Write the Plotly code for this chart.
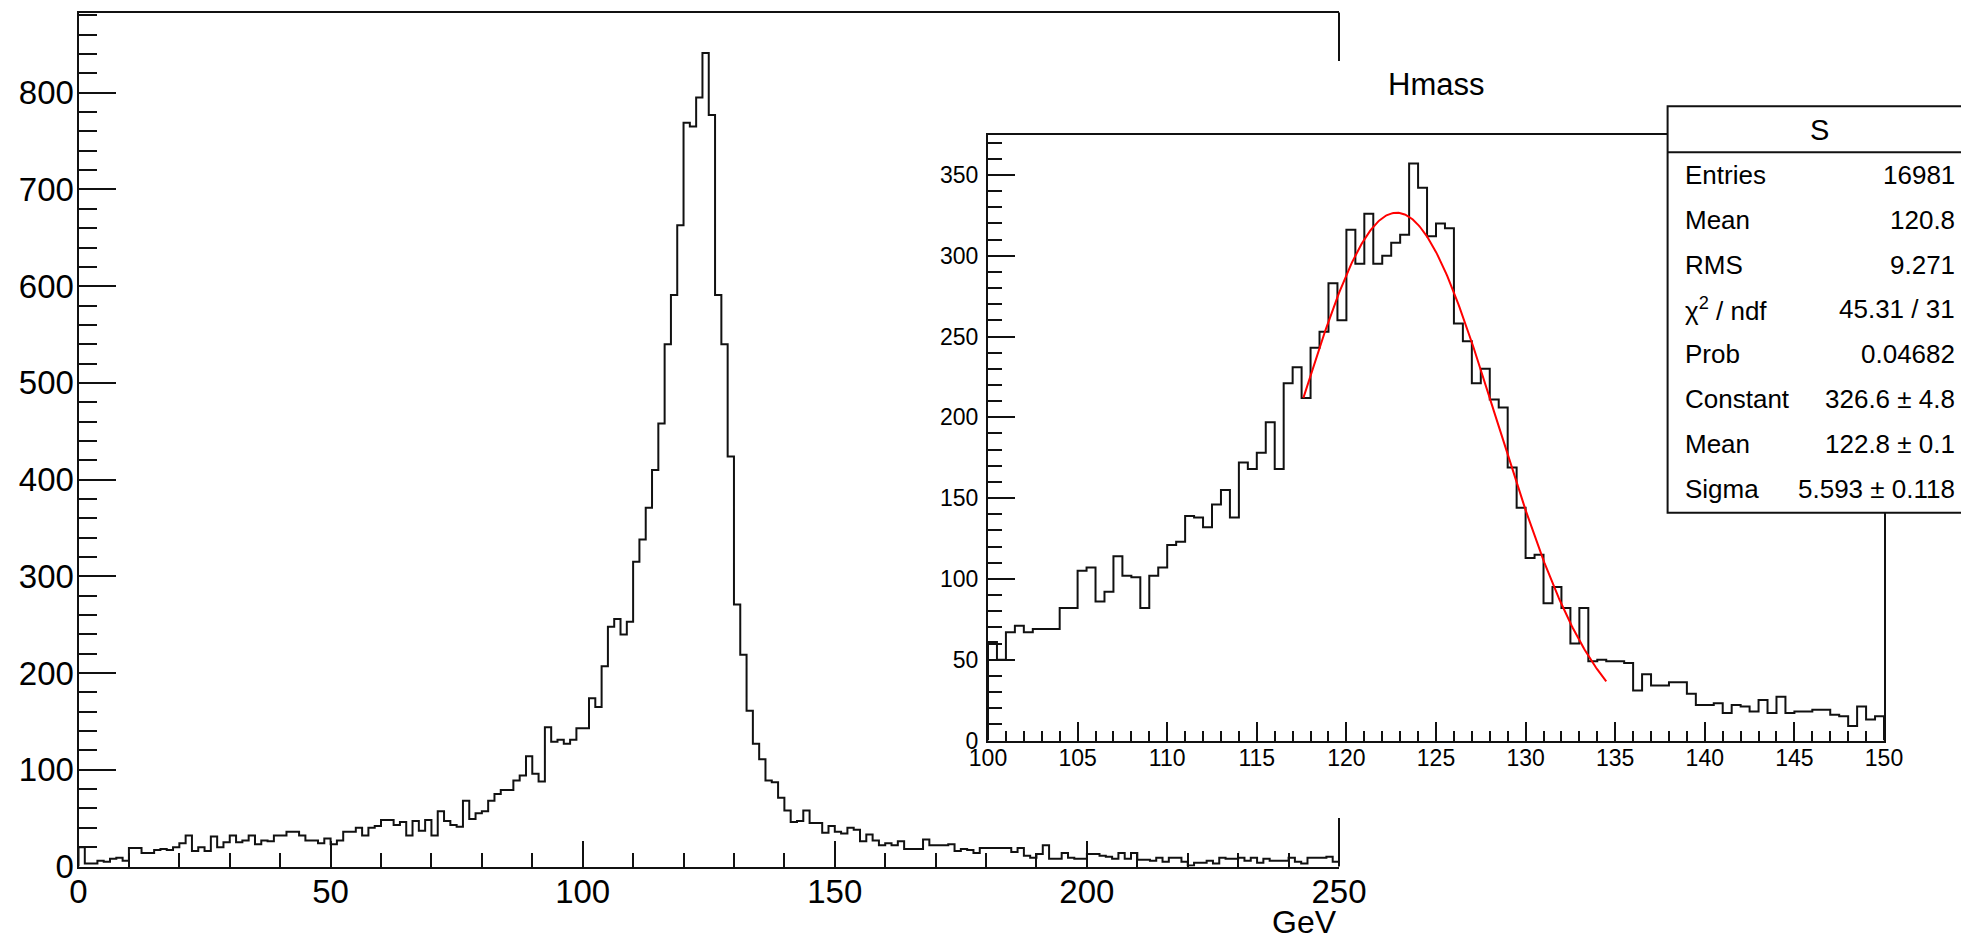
import numpy as np
import plotly.graph_objects as go

W, H = 1961, 943

# ---------------- data ----------------
# main histogram: 200 bins, 0..250 GeV
main_range = (0.0, 250.0)
main_counts = [
    20, 3, 3, 6, 5, 8, 9, 6, 19, 19,
    14, 14, 17, 18, 17, 20, 24, 32, 16, 20,
    16, 31, 20, 25, 32, 25, 27, 32, 23, 27,
    26, 32, 32, 36, 36, 32, 27, 27, 24, 29,
    23, 27, 36, 36, 40, 32, 40, 42, 48, 48,
    43, 46, 32, 47, 37, 48, 32, 57, 47, 43,
    41, 68, 49, 55, 57, 68, 75, 79, 79, 89,
    94, 114, 96, 88, 144, 129, 131, 127, 131, 143,
    143, 174, 165, 207, 248, 256, 240, 253, 315, 338,
    371, 410, 458, 540, 591, 663, 769, 765, 795, 841,
    777, 591, 540, 424, 271, 219, 161, 127, 111, 89,
    87, 71, 58, 46, 47, 58, 45, 45, 35, 42,
    36, 34, 40, 38, 26, 33, 27, 22, 24, 22,
    26, 18, 18, 18, 28, 22, 22, 22, 23, 16,
    18, 17, 14, 19, 19, 19, 19, 19, 15, 19,
    11, 9, 13, 22, 8, 8, 14, 9, 8, 8,
    13, 13, 11, 10, 8, 14, 8, 14, 7, 7,
    6, 9, 5, 9, 9, 5, 1, 4, 4, 6,
    3, 9, 8, 8, 9, 6, 9, 4, 8, 6,
    6, 6, 9, 5, 3, 9, 9, 9, 10, 5,
]

# inset histogram "Hmass": 100 bins, 100..150 GeV
inset_range = (100.0, 150.0)
inset_counts = [
    61, 50, 67, 71, 67, 69, 69, 69, 82, 82,
    105, 107, 86, 92, 114, 102, 101, 82, 102, 107,
    121, 123, 139, 138, 132, 146, 155, 138, 172, 168,
    178, 197, 168, 221, 231, 212, 243, 253, 283, 260,
    316, 295, 326, 295, 300, 308, 313, 357, 342, 312,
    320, 317, 258, 247, 221, 230, 211, 206, 169, 144,
    113, 115, 85, 95, 82, 60, 82, 49, 50, 49,
    49, 48, 31, 41, 34, 34, 36, 36, 29, 22,
    22, 23, 17, 22, 21, 18, 25, 17, 27, 17,
    18, 18, 19, 19, 16, 15, 9, 21, 13, 15,
]

# gaussian fit (parameters from the stats box)
fit_constant = 326.6
fit_mean = 122.8
fit_sigma = 5.593
fit_range = (117.6, 134.5)

stats_title = "S"
stats_labels = ["Entries", "Mean", "RMS", "χ<sup>2</sup> / ndf", "Prob",
                "Constant", "Mean", "Sigma"]
stats_values = ["16981", "120.8", "9.271", "45.31 / 31", "0.04682",
                "326.6 ± 4.8", "122.8 ± 0.1", "5.593 ± 0.118"]

main_yticks = [0, 100, 200, 300, 400, 500, 600, 700, 800]
main_xticks = [0, 50, 100, 150, 200, 250]
inset_xticks = [100, 105, 110, 115, 120, 125, 130, 135, 140, 145, 150]
inset_yticks = [0, 50, 100, 150, 200, 250, 300, 350]
x_title = "GeV"
inset_title = "Hmass"


# ---------------- helpers ----------------
def px(x):
    return x / W


def py(y):
    return 1 - y / H


def step_xy(counts, lo, hi):
    n = len(counts)
    edges = np.linspace(lo, hi, n + 1)
    xs = [edges[0]] + list(edges[:-1]) + [edges[-1], edges[-1]]
    ys = [0] + list(counts) + [counts[-1], 0]
    return xs, ys


FONT = "Liberation Sans, Arial, Helvetica, sans-serif"
LW = 2
INK = "#111111"

fig = go.Figure()

mx, my = step_xy(main_counts, *main_range)
fig.add_trace(go.Scatter(x=mx, y=my, mode="lines", line=dict(color=INK, width=LW, shape="hv"),
                         xaxis="x", yaxis="y", showlegend=False, hoverinfo="skip"))

ix, iy = step_xy(inset_counts, *inset_range)
fig.add_trace(go.Scatter(x=ix, y=iy, mode="lines", line=dict(color=INK, width=LW, shape="hv"),
                         xaxis="x2", yaxis="y2", showlegend=False, hoverinfo="skip"))

fx = np.linspace(fit_range[0], fit_range[1], 300)
fy = fit_constant * np.exp(-0.5 * ((fx - fit_mean) / fit_sigma) ** 2)
fig.add_trace(go.Scatter(x=fx, y=fy, mode="lines", line=dict(color="#ff0000", width=2),
                         xaxis="x2", yaxis="y2", showlegend=False, hoverinfo="skip"))

# geometry (pixels)
M_L, M_R, M_T, M_B = 78.5, 1339.0, 12.5, 866.5
I_L, I_R, I_T, I_B = 988.0, 1884.0, 134.5, 740.5
PAD_T, PAD_B = 61.0, 818.0
S_L, S_R, S_T, S_SEP, S_B = 1667.6, 1975.0, 106.3, 152.3, 512.7


def axis(**kw):
    d = dict(showgrid=False, zeroline=False, showline=True, linecolor=INK,
             linewidth=LW, ticks="inside", tickcolor=INK, tickwidth=LW,
             automargin=False)
    d.update(kw)
    return d


fig.update_layout(
    width=W, height=H,
    margin=dict(l=0, r=0, t=0, b=0, pad=0),
    paper_bgcolor="white", plot_bgcolor="rgba(0,0,0,0)",
    showlegend=False,
    xaxis=axis(domain=[px(M_L), px(M_R)], range=list(main_range),
               tickvals=main_xticks, ticklen=26, mirror=True, anchor="y",
               ticklabelstandoff=-5, tickfont=dict(family=FONT, size=33, color="black"),
               minor=dict(ticks="inside", dtick=10, ticklen=14, tickwidth=LW, tickcolor=INK)),
    yaxis=axis(domain=[py(M_B), py(M_T)], range=[0, 883],
               tickvals=main_yticks, ticklen=37, mirror=False, anchor="x",
               ticklabelstandoff=-4, tickfont=dict(family=FONT, size=33, color="black"),
               minor=dict(ticks="inside", dtick=20, ticklen=18.5, tickwidth=LW, tickcolor=INK)),
    xaxis2=axis(domain=[px(I_L), px(I_R)], range=list(inset_range),
                tickvals=inset_xticks, ticklen=18.7, mirror=True, anchor="y2",
                ticklabelstandoff=-4, tickfont=dict(family=FONT, size=23, color="black"),
                minor=dict(ticks="inside", dtick=1, ticklen=9.3, tickwidth=LW, tickcolor=INK)),
    yaxis2=axis(domain=[py(I_B), py(I_T)], range=[0, 375],
                tickvals=inset_yticks, ticklen=27, mirror=True, anchor="x2",
                ticklabelstandoff=3, tickfont=dict(family=FONT, size=23, color="black"),
                minor=dict(ticks="inside", dtick=10, ticklen=13.8, tickwidth=LW, tickcolor=INK)),
)

shapes = [
    # right edge of the main frame, visible above and below the inset pad
    dict(type="line", xref="paper", yref="paper", x0=px(M_R), x1=px(M_R), y0=py(M_T), y1=py(PAD_T),
         line=dict(color=INK, width=LW)),
    dict(type="line", xref="paper", yref="paper", x0=px(M_R), x1=px(M_R), y0=py(PAD_B), y1=py(M_B),
         line=dict(color=INK, width=LW)),
    # stats box
    dict(type="rect", xref="paper", yref="paper", x0=px(S_L), x1=px(S_R), y0=py(S_B), y1=py(S_T),
         fillcolor="white", line=dict(color=INK, width=LW), layer="above"),
    dict(type="line", xref="paper", yref="paper", x0=px(S_L), x1=px(S_R), y0=py(S_SEP), y1=py(S_SEP),
         line=dict(color=INK, width=LW), layer="above"),
]
fig.update_layout(shapes=shapes)

ann = []
ann.append(dict(text=x_title, xref="paper", yref="paper", x=px(M_R), y=py(921.7),
                xanchor="right", yanchor="middle", showarrow=False,
                font=dict(family=FONT, size=32, color="black")))
ann.append(dict(text=inset_title, xref="paper", yref="paper", x=px(1436), y=py(84),
                xanchor="center", yanchor="middle", showarrow=False,
                font=dict(family=FONT, size=31, color="black")))
ann.append(dict(text=stats_title, xref="paper", yref="paper", x=px(1819), y=py(130),
                xanchor="center", yanchor="middle", showarrow=False,
                font=dict(family=FONT, size=29, color="black")))
for i, (lab, val) in enumerate(zip(stats_labels, stats_values)):
    yy = 175 + 44.8 * i
    ann.append(dict(text=lab, xref="paper", yref="paper", x=px(1683), y=py(yy),
                    xanchor="left", yanchor="middle", showarrow=False,
                    font=dict(family=FONT, size=26, color="black")))
    ann.append(dict(text=val, xref="paper", yref="paper", x=px(1957), y=py(yy),
                    xanchor="right", yanchor="middle", showarrow=False,
                    font=dict(family=FONT, size=26, color="black")))
fig.update_layout(annotations=ann)

fig.write_html("out.html")
